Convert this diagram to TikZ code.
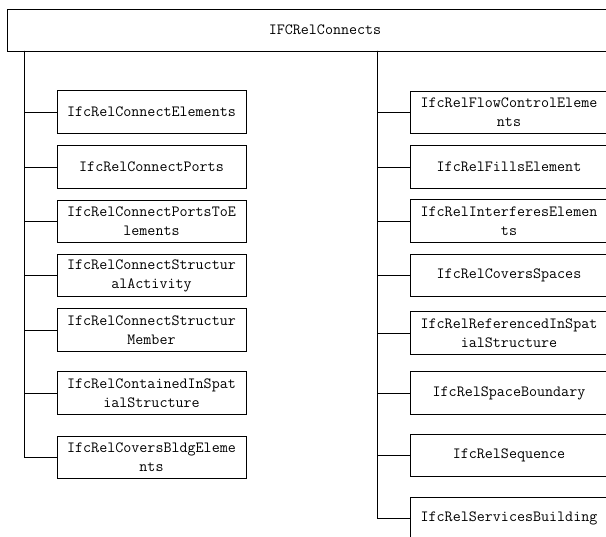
\documentclass[tikz,border=0pt]{standalone}
\usepackage{fontspec}
\setmonofont{Latin Modern Mono}
\begin{document}
\begin{tikzpicture}[x=1pt,y=-1pt,
  box/.style={draw=black, line width=0.9pt, rectangle, inner sep=0pt, align=center,
    font=\ttfamily\fontsize{15.6}{19}\selectfont, minimum height=42.5pt},
  lbox/.style={box, minimum width=189pt},
  rbox/.style={box, minimum width=198pt},
  conn/.style={draw=black, line width=0.9pt}]
\useasboundingbox (0,0) rectangle (606,537);
\clip (0,0) rectangle (606,537);
\node[box, minimum width=636pt, minimum height=42pt] (top) at (325,30) {IFCRelConnects};
\coordinate (lt) at (24,51);
\coordinate (rt) at (377,51);
% left column
\node[lbox] (L1) at (151.5,112) {IfcRelConnectElements};
\node[lbox] (L2) at (151.5,167) {IfcRelConnectPorts};
\node[lbox] (L3) at (151.5,221.5) {IfcRelConnectPortsToE\\lements};
\node[lbox] (L4) at (151.5,275.5) {IfcRelConnectStructur\\alActivity};
\node[lbox] (L5) at (151.5,330) {IfcRelConnectStructur\\Member};
\node[lbox] (L6) at (151.5,393) {IfcRelContainedInSpat\\ialStructure};
\node[lbox] (L7) at (151.5,457.5) {IfcRelCoversBldgEleme\\nts};
% right column
\node[rbox] (R1) at (509,112.5) {IfcRelFlowControlEleme\\nts};
\node[rbox] (R2) at (509,167) {IfcRelFillsElement};
\node[rbox] (R3) at (509,221) {IfcRelInterferesElemen\\ts};
\node[rbox] (R4) at (509,275.5) {IfcRelCoversSpaces};
\node[rbox] (R5) at (509,333) {IfcRelReferencedInSpat\\ialStructure};
\node[rbox] (R6) at (509,393) {IfcRelSpaceBoundary};
\node[rbox] (R7) at (509,455.5) {IfcRelSequence};
\node[rbox] (R8) at (509,518.5) {IfcRelServicesBuilding};
% connectors
\foreach \n in {L1,L2,L3,L4,L5,L6,L7} \draw[conn] (lt) |- (\n.west);
\foreach \n in {R1,R2,R3,R4,R5,R6,R7,R8} \draw[conn] (rt) |- (\n.west);
\end{tikzpicture}
\end{document}
